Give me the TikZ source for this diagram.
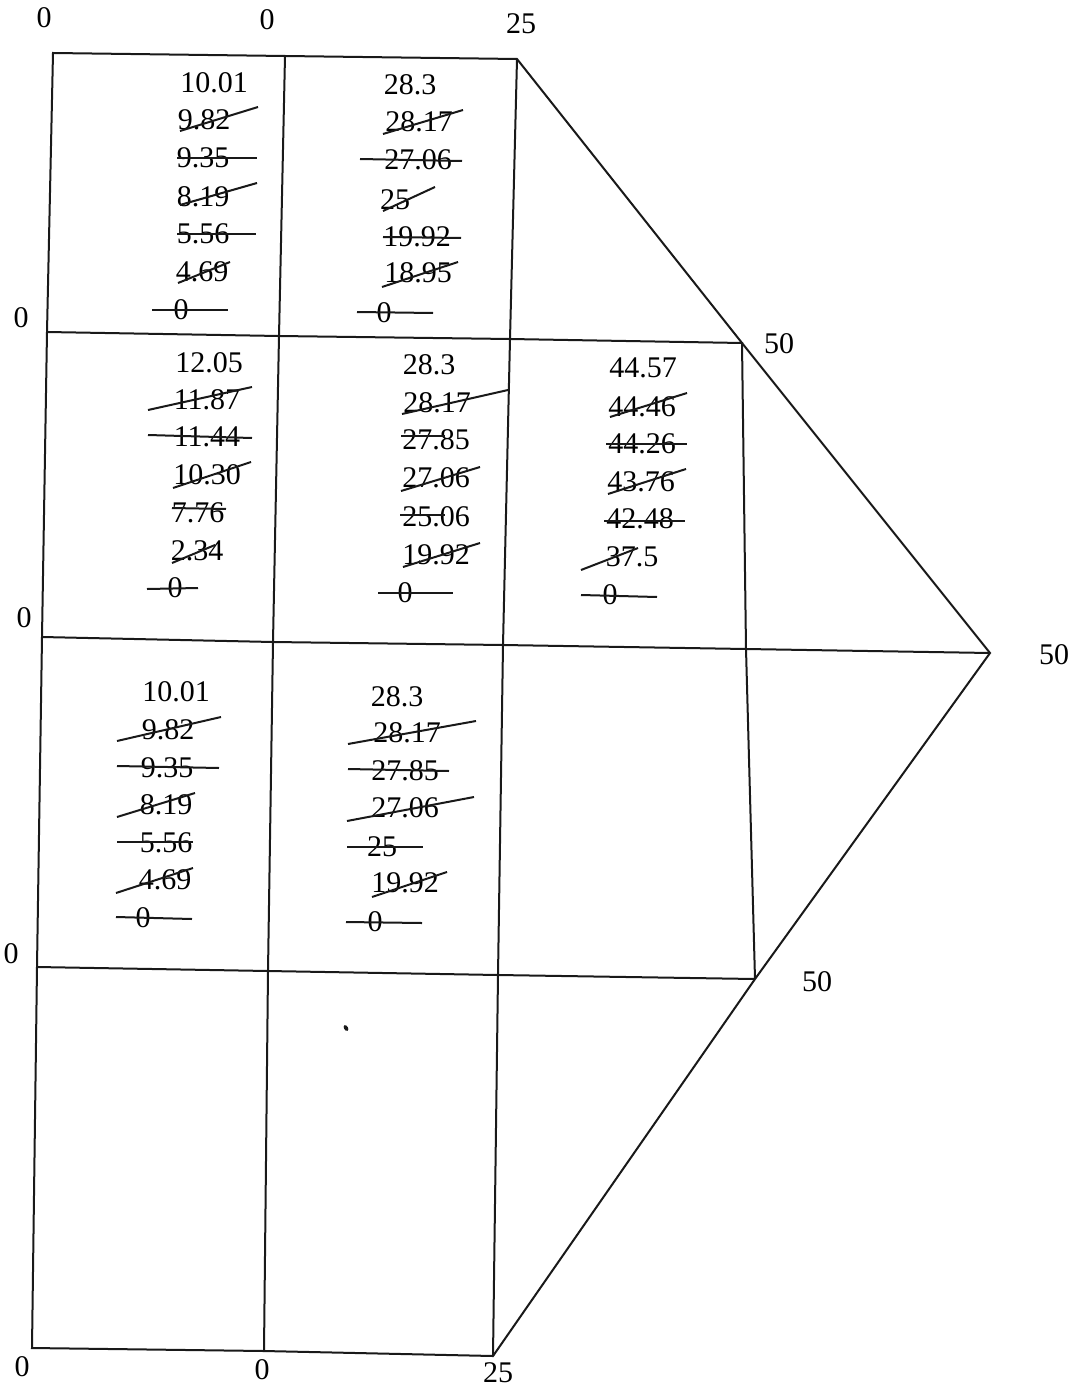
\documentclass[tikz,border=0pt]{standalone}
\usepackage{fontspec}
\setmainfont{Liberation Serif}
\tikzset{
  lab/.style={inner sep=0pt,font=\fontsize{30}{30}\selectfont,text=black},
  grid line/.style={line width=2pt,black!90,line join=miter},
  strike/.style={line width=2pt,black!90},
}
\newcommand{\nm}[3]{\node[lab] at (#1,#2) {#3};}
\newcommand{\st}[4]{\draw[strike] (#1,#2) -- (#3,#4);}
\begin{document}
\begin{tikzpicture}[x=1pt,y=-1pt]
\useasboundingbox (0,0) rectangle (1077,1388);
% grid corners
\coordinate (a0) at (53,53); \coordinate (a1) at (285,56); \coordinate (a2) at (517,59);
\coordinate (b0) at (47,332); \coordinate (b1) at (279,336); \coordinate (b2) at (510,339); \coordinate (b3) at (742,343);
\coordinate (c0) at (42,637); \coordinate (c1) at (273,642); \coordinate (c2) at (503,645); \coordinate (c3) at (746,649); \coordinate (c4) at (990,653);
\coordinate (d0) at (37,967); \coordinate (d1) at (268,971); \coordinate (d2) at (498,975); \coordinate (d3) at (755,979);
\coordinate (e0) at (32,1348); \coordinate (e1) at (264,1351); \coordinate (e2) at (493,1356);
\draw[grid line] (a0) -- (a1) -- (a2) -- (b3) -- (c4) -- (d3) -- (e2) -- (e1) -- (e0) -- (d0) -- (c0) -- (b0) -- cycle;
\draw[grid line] (b0) -- (b1) -- (b2) -- (b3) -- (c3) -- (d3);
\draw[grid line] (c0) -- (c1) -- (c2) -- (c3) -- (c4);
\draw[grid line] (d0) -- (d1) -- (d2) -- (d3);
\draw[grid line] (a1) -- (b1) -- (c1) -- (d1) -- (e1);
\draw[grid line] (a2) -- (b2) -- (c2) -- (d2) -- (e2);
% corner labels
\nm{44}{18}{0}\nm{267}{20}{0}\nm{521}{24}{25}
\nm{21}{318}{0}\nm{24}{618}{0}\nm{11}{954}{0}
\nm{779}{344}{50}\nm{1054}{655}{50}\nm{817}{982}{50}
\nm{22}{1367}{0}\nm{262}{1370}{0}\nm{498}{1373}{25}
% cell 1
\nm{214}{83}{10.01}\nm{204}{120}{9.82}\nm{203}{158}{9.35}\nm{203}{197}{8.19}\nm{203}{234}{5.56}\nm{202}{272}{4.69}\nm{181}{310}{0}
\st{180}{131}{258}{107}\st{177}{158}{257}{158}\st{180}{205}{257}{183}\st{177}{234}{256}{234}\st{178}{283}{230}{262}\st{152}{310}{228}{310}
% cell 2
\nm{410}{85}{28.3}\nm{419}{122}{28.17}\nm{418}{160}{27.06}\nm{395}{200}{25}\nm{417}{237}{19.92}\nm{418}{273}{18.95}\nm{384}{313}{0}
\st{383}{134}{463}{110}\st{360}{159}{462}{161}\st{383}{211}{435}{187}\st{383}{237}{461}{238}\st{382}{287}{458}{262}\st{357}{312}{433}{313}
% cell 3
\nm{209}{363}{12.05}\nm{207}{400}{11.87}\nm{207}{437}{11.44}\nm{207}{475}{10.30}\nm{198}{513}{7.76}\nm{197}{551}{2.34}\nm{175}{588}{0}
\st{148}{410}{252}{387}\st{148}{435}{252}{438}\st{173}{488}{251}{462}\st{172}{508}{226}{509}\st{172}{563}{215}{545}\st{147}{589}{198}{588}
% cell 4
\nm{429}{365}{28.3}\nm{437}{403}{28.17}\nm{436}{440}{27.85}\nm{436}{478}{27.06}\nm{436}{517}{25.06}\nm{436}{555}{19.92}\nm{405}{593}{0}
\st{402}{414}{508}{390}\st{401}{436}{445}{436}\st{401}{491}{480}{467}\st{400}{515}{445}{515}\st{403}{567}{480}{543}\st{378}{593}{453}{593}
% cell 5
\nm{643}{368}{44.57}\nm{642}{407}{44.46}\nm{642}{444}{44.26}\nm{641}{482}{43.76}\nm{640}{519}{42.48}\nm{632}{557}{37.5}\nm{610}{595}{0}
\st{610}{417}{687}{393}\st{606}{444}{687}{444}\st{608}{494}{686}{469}\st{604}{521}{685}{521}\st{581}{570}{638}{548}\st{581}{595}{657}{597}
% cell 6
\nm{176}{692}{10.01}\nm{168}{730}{9.82}\nm{167}{768}{9.35}\nm{166}{805}{8.19}\nm{166}{843}{5.56}\nm{165}{880}{4.69}\nm{143}{918}{0}
\st{117}{741}{221}{717}\st{117}{766}{219}{768}\st{117}{817}{195}{793}\st{117}{842}{193}{842}\st{116}{893}{193}{868}\st{116}{917}{192}{919}
% cell 7
\nm{397}{697}{28.3}\nm{407}{733}{28.17}\nm{405}{771}{27.85}\nm{405}{808}{27.06}\nm{382}{847}{25}\nm{405}{883}{19.92}\nm{375}{922}{0}
\st{348}{744}{476}{721}\st{348}{769}{449}{771}\st{347}{821}{474}{797}\st{347}{847}{423}{847}\st{372}{897}{447}{872}\st{346}{922}{422}{923}
% speck
\fill[black!90,rotate around={30:(346,1028)}] (346,1028) ellipse (2pt and 3.2pt);
\end{tikzpicture}
\end{document}
